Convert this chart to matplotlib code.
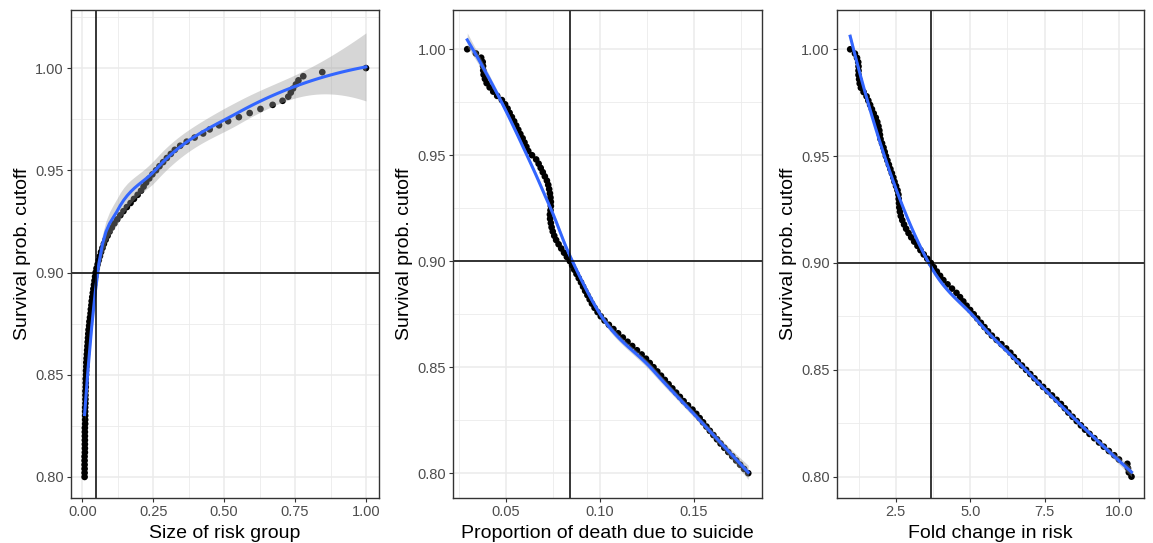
import numpy as np
import matplotlib
matplotlib.use("Agg")
import matplotlib.pyplot as plt

plt.rcParams['font.family'] = ['Liberation Sans', 'DejaVu Sans']

# ---------------- data ----------------
cutoff = [0.800, 0.802, 0.804, 0.806, 0.808, 0.810, 0.812, 0.814, 0.816, 0.818,
          0.820, 0.822, 0.824, 0.826, 0.828, 0.830, 0.832, 0.834, 0.836, 0.838,
          0.840, 0.842, 0.844, 0.846, 0.848, 0.850, 0.852, 0.854, 0.856, 0.858,
          0.860, 0.862, 0.864, 0.866, 0.868, 0.870, 0.872, 0.874, 0.876, 0.878,
          0.880, 0.882, 0.884, 0.886, 0.888, 0.890, 0.892, 0.894, 0.896, 0.898,
          0.900, 0.902, 0.904, 0.906, 0.908, 0.910, 0.912, 0.914, 0.916, 0.918,
          0.920, 0.922, 0.924, 0.926, 0.928, 0.930, 0.932, 0.934, 0.936, 0.938,
          0.940, 0.942, 0.944, 0.946, 0.948, 0.950, 0.952, 0.954, 0.956, 0.958,
          0.960, 0.962, 0.964, 0.966, 0.968, 0.970, 0.972, 0.974, 0.976, 0.978,
          0.980, 0.982, 0.984, 0.986, 0.988, 0.990, 0.992, 0.994, 0.996, 0.998,
          1.000]

size_risk_group = [0.008, 0.008, 0.008, 0.008, 0.008, 0.008, 0.009, 0.009, 0.009, 0.009,
                   0.009, 0.009, 0.009, 0.010, 0.010, 0.010, 0.010, 0.010, 0.011, 0.011,
                   0.011, 0.011, 0.012, 0.012, 0.012, 0.013, 0.013, 0.014, 0.014, 0.015,
                   0.016, 0.017, 0.018, 0.019, 0.020, 0.021, 0.022, 0.024, 0.025, 0.027,
                   0.029, 0.030, 0.032, 0.033, 0.035, 0.037, 0.039, 0.041, 0.043, 0.045,
                   0.047, 0.050, 0.054, 0.058, 0.062, 0.066, 0.071, 0.076, 0.082, 0.089,
                   0.096, 0.104, 0.113, 0.123, 0.134, 0.145, 0.157, 0.170, 0.182, 0.195,
                   0.207, 0.216, 0.225, 0.236, 0.247, 0.260, 0.272, 0.285, 0.298, 0.312,
                   0.326, 0.345, 0.368, 0.396, 0.426, 0.449, 0.482, 0.514, 0.552, 0.590,
                   0.628, 0.671, 0.706, 0.726, 0.735, 0.743, 0.753, 0.762, 0.779, 0.846,
                   1.000]

prop_suicide = [0.1788, 0.1766, 0.1745, 0.1724, 0.1703, 0.1682, 0.1661, 0.1641, 0.1622, 0.1603,
                0.1584, 0.1566, 0.1548, 0.1530, 0.1512, 0.1492, 0.1468, 0.1445, 0.1425, 0.1405,
                0.1385, 0.1365, 0.1345, 0.1325, 0.1305, 0.1285, 0.1265, 0.1245, 0.1222, 0.1197,
                0.1172, 0.1147, 0.1122, 0.1097, 0.1072, 0.1048, 0.1025, 0.1005, 0.0988, 0.0972,
                0.0958, 0.0946, 0.0934, 0.0922, 0.0911, 0.0900, 0.0888, 0.0876, 0.0864, 0.0853,
                0.0841, 0.0825, 0.0810, 0.0795, 0.0781, 0.0768, 0.0758, 0.0750, 0.0744, 0.0740,
                0.0736, 0.0735, 0.0738, 0.0740, 0.0740, 0.0738, 0.0735, 0.0731, 0.0726, 0.0719,
                0.0708, 0.0697, 0.0686, 0.0675, 0.0662, 0.0640, 0.0620, 0.0610, 0.0600, 0.0590,
                0.0578, 0.0567, 0.0556, 0.0545, 0.0533, 0.0521, 0.0510, 0.0497, 0.0480, 0.0455,
                0.0434, 0.0415, 0.0399, 0.0390, 0.0383, 0.0381, 0.0380, 0.0378, 0.0370, 0.0342,
                0.0296]

fold_change = [10.42, 10.33, 10.30, 10.28, 10.00, 9.84, 9.66, 9.49, 9.33, 9.17,
               9.01, 8.86, 8.72, 8.58, 8.44, 8.30, 8.18, 8.05, 7.90, 7.75,
               7.60, 7.45, 7.30, 7.16, 7.02, 6.88, 6.74, 6.60, 6.47, 6.35,
               6.21, 6.05, 5.89, 5.73, 5.60, 5.48, 5.36, 5.24, 5.12, 5.00,
               4.88, 4.77, 4.66, 4.54, 4.39, 4.24, 4.10, 3.99, 3.88, 3.78,
               3.68, 3.56, 3.44, 3.33, 3.23, 3.12, 3.02, 2.93, 2.85, 2.78,
               2.72, 2.67, 2.64, 2.62, 2.61, 2.60, 2.59, 2.56, 2.51, 2.46,
               2.42, 2.37, 2.32, 2.27, 2.22, 2.17, 2.13, 2.09, 2.04, 1.99,
               1.97, 1.95, 1.92, 1.88, 1.83, 1.76, 1.70, 1.64, 1.58, 1.52,
               1.42, 1.33, 1.29, 1.27, 1.25, 1.25, 1.25, 1.24, 1.20, 1.13,
               0.97]

cut_y = 0.90
cut_size = 0.047
cut_prop = 0.0841
cut_fold = 3.676

x_titles = ["Size of risk group", "Proportion of death due to suicide", "Fold change in risk"]
y_title = "Survival prob. cutoff"


# ---------------- loess (span 0.75, degree 2, kd-tree interpolation as in R) ----------------
def local_rows(x, x0, q):
    n = len(x)
    d = np.abs(x - x0)
    h = np.sort(d)[q - 1]
    w = np.clip(1 - (d / h) ** 3, 0, None) ** 3
    X = np.column_stack([np.ones(n), x - x0, (x - x0) ** 2])
    A = X.T @ (w[:, None] * X)
    B = (X * w[:, None]).T
    S = np.linalg.solve(A, B)
    return S[0], S[1]          # operator rows for value and slope


def kd_vertices(x, fc):
    xs = np.sort(x)
    lo, hi = xs[0], xs[-1]
    mu = 0.005 * max(hi - lo, 1e-10)
    verts = [lo - mu, hi + mu]

    def split(l, u, blo, bhi):          # 1-based inclusive indices into xs
        if (u - l + 1) <= fc:
            return
        m = (l + u) // 2
        off = 0
        while not (m + off >= u or m + off < l):
            if xs[m + off - 1] == xs[m + off]:
                off = -off
                if off >= 0:
                    off += 1
            else:
                m = m + off
                break
        v = xs[m - 1]
        if v == blo or v == bhi:
            return
        verts.append(v)
        split(l, m, blo, v)
        split(m + 1, u, v, bhi)

    split(1, len(xs), verts[0], verts[1])
    return np.unique(verts)


def interp_rows(x, xe, span=0.75, cell=0.2):
    n = len(x)
    q = int(np.floor(n * span + 1e-5))
    fc = int(np.floor(n * span * cell))
    vx = kd_vertices(x, fc)
    V, D = zip(*[local_rows(x, v, q) for v in vx])
    V = np.array(V)
    D = np.array(D)
    out = []
    for x0 in xe:
        j = np.searchsorted(vx, x0) - 1
        j = min(max(j, 0), len(vx) - 2)
        a, b = vx[j], vx[j + 1]
        hgt = b - a
        t = (x0 - a) / hgt
        h00 = 2 * t ** 3 - 3 * t ** 2 + 1
        h10 = t ** 3 - 2 * t ** 2 + t
        h01 = -2 * t ** 3 + 3 * t ** 2
        h11 = t ** 3 - t ** 2
        out.append(h00 * V[j] + h10 * hgt * D[j] + h01 * V[j + 1] + h11 * hgt * D[j + 1])
    return np.array(out)


def loess_fit(x, y, n_out=80):
    x = np.asarray(x, float)
    y = np.asarray(y, float)
    n = len(x)
    L = interp_rows(x, x)
    res = y - L @ y
    IL = np.eye(n) - L
    d1 = np.trace(IL.T @ IL)
    sigma = np.sqrt(np.sum(res ** 2) / d1)
    xe = np.linspace(x.min(), x.max(), n_out)
    Le = interp_rows(x, xe)
    fe = Le @ y
    se = sigma * np.sqrt(np.sum(Le ** 2, axis=1))
    t = 1.985
    return xe, fe, fe - t * se, fe + t * se


# ---------------- figure ----------------
W, H = 1153, 543
fig = plt.figure(figsize=(W / 100, H / 100), dpi=100)

panels = [
    dict(x=size_risk_group, vline=cut_size, box=(70.7, 379.0, 10, 498),
         xlim=(-0.041, 1.046), ylim=(0.7897, 1.0284),
         xmaj=[0.0, 0.25, 0.5, 0.75, 1.0], xlab=["0.00", "0.25", "0.50", "0.75", "1.00"],
         xmin=[0.125, 0.375, 0.625, 0.875]),
    dict(x=prop_suicide, vline=cut_prop, box=(453.3, 762.0, 10, 498),
         xlim=(0.0222, 0.1861), ylim=(0.7883, 1.0185),
         xmaj=[0.05, 0.10, 0.15], xlab=["0.05", "0.10", "0.15"],
         xmin=[0.025, 0.075, 0.125, 0.175]),
    dict(x=fold_change, vline=cut_fold, box=(836.7, 1144.0, 10, 498),
         xlim=(0.517, 10.84), ylim=(0.790, 1.0184),
         xmaj=[2.5, 5.0, 7.5, 10.0], xlab=["2.5", "5.0", "7.5", "10.0"],
         xmin=[1.25, 3.75, 6.25, 8.75]),
]

ymaj = [0.80, 0.85, 0.90, 0.95, 1.00]
ylab = ["0.80", "0.85", "0.90", "0.95", "1.00"]
ymin = [0.825, 0.875, 0.925, 0.975, 1.025]

grid_c = "#EBEBEB"
for i, p in enumerate(panels):
    l, r, t, b = p["box"]
    ax = fig.add_axes([l / W, (H - b) / H, (r - l) / W, (b - t) / H])
    ax.set_xlim(*p["xlim"])
    ax.set_ylim(*p["ylim"])

    for v in p["xmin"]:
        if p["xlim"][0] < v < p["xlim"][1]:
            ax.axvline(v, color=grid_c, lw=0.6, zorder=0)
    for v in ymin:
        if p["ylim"][0] < v < p["ylim"][1]:
            ax.axhline(v, color=grid_c, lw=0.6, zorder=0)
    for v in p["xmaj"]:
        ax.axvline(v, color=grid_c, lw=1.1, zorder=0)
    for v in ymaj:
        ax.axhline(v, color=grid_c, lw=1.1, zorder=0)

    xs = np.asarray(p["x"], float)
    ys = np.asarray(cutoff, float)
    ax.scatter(xs, ys, s=23, color="black", edgecolors="none", zorder=2)

    xe, fe, lo, hi = loess_fit(xs, ys)
    ax.fill_between(xe, lo, hi, color="#999999", alpha=0.4, lw=0, zorder=3)
    ax.plot(xe, fe, color="#3366FF", lw=2.2, zorder=4)

    ax.axhline(cut_y, color="black", lw=1.1, zorder=5)
    ax.axvline(p["vline"], color="black", lw=1.1, zorder=5)

    ax.set_xticks(p["xmaj"])
    ax.set_xticklabels(p["xlab"])
    ax.set_yticks(ymaj)
    ax.set_yticklabels(ylab)
    ax.tick_params(axis="both", which="major", length=3, width=0.8, color="#333333",
                   labelsize=10.5, labelcolor="#4D4D4D", pad=2)
    for s in ax.spines.values():
        s.set_color("#333333")
        s.set_linewidth(1.0)
        s.set_zorder(6)

    ax.set_xlabel(x_titles[i], fontsize=14, color="black")
    ax.set_ylabel(y_title, fontsize=14, color="black")
    ax.xaxis.set_label_coords(0.5, -0.056)
    ax.xaxis.label.set_va("top")
    ax.yaxis.set_label_coords(-0.13, 0.5)

fig.savefig("out.png", dpi=100)
